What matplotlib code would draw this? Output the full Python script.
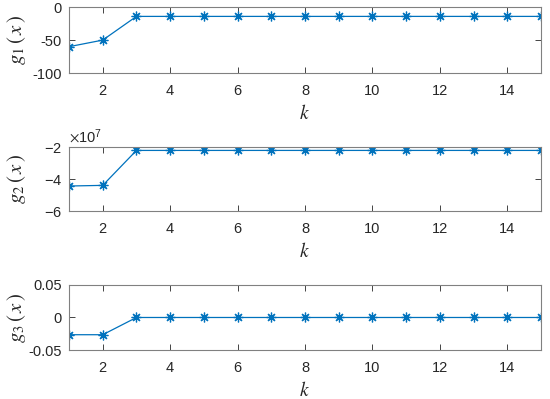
import numpy as np
import matplotlib.pyplot as plt
from matplotlib.ticker import ScalarFormatter

plt.rcParams["font.family"] = ["Liberation Sans", "DejaVu Sans"]
plt.rcParams["mathtext.fontset"] = "stix"
plt.rcParams["axes.unicode_minus"] = False

k = np.arange(1, 16)
g1 = [-60, -50, -14] + [-14] * 12
g2 = [-4.43e7, -4.39e7, -2.2e7] + [-2.2e7] * 12
g3 = [-0.0265, -0.0265, 0.0] + [0.0] * 12

series = [g1, g2, g3]
ylabels = [r"$g_1\,(\,x\,)$", r"$g_2\,(\,x\,)$", r"$g_3\,(\,x\,)$"]
ylims = [(-100, 0), (-6e7, -2e7), (-0.05, 0.05)]
yticks = [[-100, -50, 0], [-6e7, -4e7, -2e7], [-0.05, 0, 0.05]]
ytick_labels = [["-100", "-50", "0"], None, ["-0.05", "0", "0.05"]]

# axes boxes in figure fractions: left, bottom, width, height
boxes = [
    (0.1255, 0.817, 0.858, 0.165),
    (0.1255, 0.471, 0.858, 0.160),
    (0.1255, 0.1228, 0.858, 0.163),
]

colour = "#0072BD"
axis_grey = "#808080"
text_dark = "#262626"

fig = plt.figure(figsize=(5.5, 3.99), dpi=100)

for y, lab, lim, ticks, tl, box in zip(series, ylabels, ylims, yticks, ytick_labels, boxes):
    ax = fig.add_axes(box)
    ax.plot(k, y, color=colour, lw=0.9, marker=(8, 2, 0), markersize=7,
            markeredgewidth=0.9)
    ax.set_xlim(1, 15)
    ax.set_ylim(*lim)
    ax.set_xticks(range(2, 16, 2))
    ax.set_yticks(ticks)
    if tl is not None:
        ax.set_yticklabels(tl)
    else:
        fmt = ScalarFormatter(useMathText=True)
        fmt.set_powerlimits((0, 0))
        ax.yaxis.set_major_formatter(fmt)
        ax.yaxis.get_offset_text().set_fontsize(10.5)
        ax.yaxis.get_offset_text().set_color(text_dark)
    ax.tick_params(direction="in", top=True, right=True, length=4,
                   color=text_dark, labelsize=10.5, labelcolor=text_dark, width=0.6)
    ax.tick_params(axis="x", pad=8)
    ax.tick_params(axis="y", pad=5)
    for s in ax.spines.values():
        s.set_color(axis_grey)
        s.set_linewidth(0.8)
    ax.set_ylabel(lab, fontsize=15, color=text_dark)
    ax.yaxis.set_label_coords(-0.112, 0.5)
    ax.yaxis.label.set_va("center")
    ax.set_xlabel(r"$k$", fontsize=14, color=text_dark, labelpad=4)

fig.savefig("out.png", dpi=100)
